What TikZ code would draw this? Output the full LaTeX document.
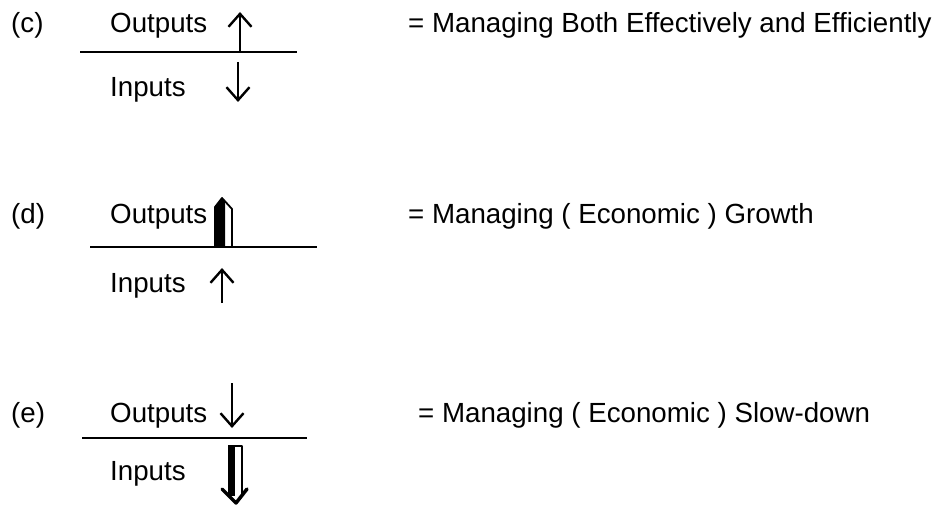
\documentclass[tikz,border=0pt]{standalone}
\usepackage{fontspec}
\setmainfont{Liberation Sans}
\usetikzlibrary{arrows.meta}
\tikzset{
	txt/.style={anchor=base west, inner sep=0pt, font=\fontsize{27.7}{32}\selectfont},
	rule/.style={line width=2pt},
	flow/.style={line width=2.4pt, -{Straight Barb[length=13pt, width=23pt, line width=2.4pt]}}
}
\begin{document}
\begin{tikzpicture}[x=1pt, y=-1pt, line join=round]
		\useasboundingbox (0,0) rectangle (940,505);
		% labels and texts
		\foreach \k/\y/\xr/\t in {c/33/408/Managing Both Effectively and Efficiently,
			d/224/408/Managing ( Economic ) Growth,
			e/422/418/Managing ( Economic ) Slow-down}
		{
			\node[txt] (lab\k) at (11,\y) {(\k)};
			\node[txt] (out\k) at (110,\y) {Outputs};
			\node[txt] (res\k) at (\xr,\y) {= \t};
		}
		\node[txt] (inc) at (110,97) {Inputs};
		\node[txt] (ind) at (110,292) {Inputs};
		\node[txt] (ine) at (110,480) {Inputs};
		% rules
		\coordinate (Lc) at (80,52);  \coordinate (Rc) at (297,52);
		\coordinate (Ld) at (90,247); \coordinate (Rd) at (317,247);
		\coordinate (Le) at (82,438); \coordinate (Re) at (307,438);
		\draw[rule] (Lc)--(Rc) (Ld)--(Rd) (Le)--(Re);
		% (c)
		\coordinate (C1) at (240,52);  \coordinate (C2) at (240,12);
		\coordinate (C3) at (238,62);  \coordinate (C4) at (238,102);
		\draw[flow] (C1)--(C2);
		\draw[flow] (C3)--(C4);
		% (d)
		\coordinate (D1) at (222,303); \coordinate (D2) at (222,268);
		\draw[flow] (D1)--(D2);
		\fill (215,247)--(215,207)--(222,198)--(225,201)--(225,247)--cycle;
		\draw[line width=1.8pt] (215,247)--(215,207)--(222,198)--(232,209)--(232,247);
		% (e)
		\coordinate (E1) at (232,383); \coordinate (E2) at (232,428);
		\draw[flow] (E1)--(E2);
		\fill (228,446) rectangle (235,496);
		\draw[line width=1.8pt] (228,446)--(242,446)--(242,494);
		\draw[line width=3.5pt, line cap=round] (222,489)--(236,503)--(247,489);
	\end{tikzpicture}
\end{document}
